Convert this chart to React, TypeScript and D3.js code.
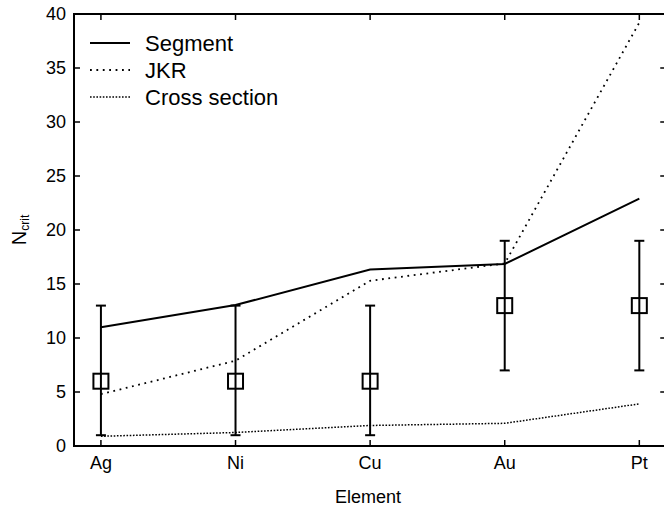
import React from "react";
import * as d3 from "d3";

const categories = ["Ag", "Ni", "Cu", "Au", "Pt"];
const segment = [11.0, 13.05, 16.35, 16.85, 22.9];
const jkr = [4.8, 7.9, 15.3, 16.9, 39.2];
const crossSection = [0.9, 1.25, 1.9, 2.1, 3.9];
const expMean = [6, 6, 6, 13, 13];
const expLow = [1, 1, 1, 7, 7];
const expHigh = [13, 13, 13, 19, 19];
const yTicks = [0, 5, 10, 15, 20, 25, 30, 35, 40];

const W = 664;
const H = 510;
const left = 74;
const top = 14;
const bottom = 446;
const step = 134.6;
const right = left + 4.4 * step;

export default function App() {
  const x = d3.scaleLinear().domain([-0.2, 4.2]).range([left, right]);
  const y = d3.scaleLinear().domain([0, 40]).range([bottom, top]);
  const line = d3
    .line<number>()
    .x((_, i) => x(i))
    .y((d) => y(d));
  const font = "'Liberation Sans', Arial, Helvetica, sans-serif";
  const tick = 6;

  const legend = [
    { name: "Segment", dash: undefined as string | undefined, w: 2 },
    { name: "JKR", dash: "1.8 4.6", w: 1.8 },
    { name: "Cross section", dash: "1.6 1.6", w: 1.5 },
  ];

  return (
    <svg
      width={W}
      height={H}
      style={{ position: "absolute", left: 0, top: 0, background: "#fff" }}
      fontFamily={font}
    >
      <rect x={0} y={0} width={W} height={H} fill="#fff" />
      <defs>
        <clipPath id="plot">
          <rect x={left} y={top} width={right - left} height={bottom - top} />
        </clipPath>
      </defs>

      {/* lines */}
      <g clipPath="url(#plot)" fill="none" stroke="#000">
        <path d={line(segment) || ""} strokeWidth={2} />
        <path d={line(jkr) || ""} strokeWidth={1.8} strokeDasharray="1.8 4.6" />
        <path d={line(crossSection) || ""} strokeWidth={1.5} strokeDasharray="1.6 1.6" />
      </g>

      {/* error bars + squares */}
      <g stroke="#000" strokeWidth={2} fill="none">
        {categories.map((c, i) => (
          <g key={c}>
            <line x1={x(i)} x2={x(i)} y1={y(expLow[i])} y2={y(expHigh[i])} />
            <line x1={x(i) - 5} x2={x(i) + 5} y1={y(expLow[i])} y2={y(expLow[i])} />
            <line x1={x(i) - 5} x2={x(i) + 5} y1={y(expHigh[i])} y2={y(expHigh[i])} />
            <rect x={x(i) - 7.5} y={y(expMean[i]) - 7.5} width={15} height={15} fill="none" />
          </g>
        ))}
      </g>

      {/* frame */}
      <rect
        x={left}
        y={top}
        width={right - left}
        height={bottom - top}
        fill="none"
        stroke="#000"
        strokeWidth={2}
      />

      {/* ticks */}
      <g stroke="#000" strokeWidth={1.5}>
        {yTicks.map((t) => (
          <g key={t}>
            <line x1={left} x2={left + tick} y1={y(t)} y2={y(t)} />
            <line x1={right} x2={right - tick} y1={y(t)} y2={y(t)} />
          </g>
        ))}
        {categories.map((c, i) => (
          <g key={c}>
            <line x1={x(i)} x2={x(i)} y1={bottom} y2={bottom - tick} />
            <line x1={x(i)} x2={x(i)} y1={top} y2={top + tick} />
          </g>
        ))}
      </g>
      <g fontSize={18} fill="#000">
        {yTicks.map((t) => (
          <text key={t} x={left - 8} y={y(t)} dy="0.36em" textAnchor="end">
            {t}
          </text>
        ))}
        {categories.map((c, i) => (
          <text key={c} x={x(i)} y={469} textAnchor="middle">
            {c}
          </text>
        ))}
        <text x={368} y={503} textAnchor="middle">
          Element
        </text>
        <text transform="translate(26,230) rotate(-90)" textAnchor="middle">
          <tspan fontSize={20}>N</tspan>
          <tspan fontSize={12} dy={3}>
            crit
          </tspan>
        </text>
      </g>

      {/* legend */}
      <g>
        {legend.map((l, i) => {
          const ly = 43 + i * 27;
          return (
            <g key={l.name}>
              <line
                x1={90}
                x2={130}
                y1={ly}
                y2={ly}
                stroke="#000"
                strokeWidth={l.w}
                strokeDasharray={l.dash}
              />
              <text x={145} y={ly + 7.5} fontSize={22} fill="#000">
                {l.name}
              </text>
            </g>
          );
        })}
      </g>
    </svg>
  );
}
